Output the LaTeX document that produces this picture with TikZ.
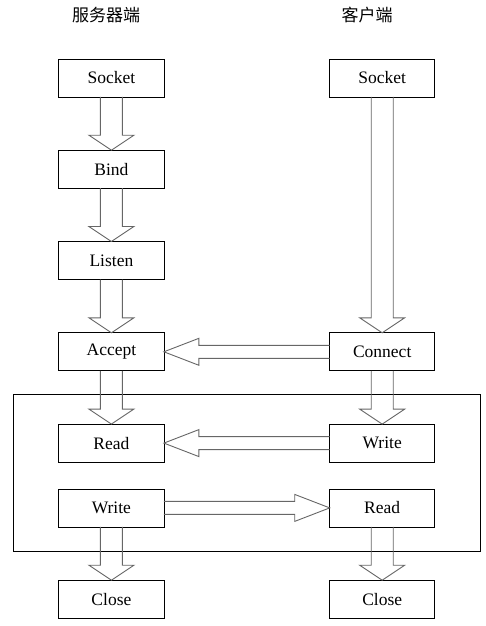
\documentclass[tikz,border=0pt]{standalone}
\usepackage{fontspec}
\setmainfont{Liberation Serif}
\newfontfamily\cjk{Noto Sans CJK SC}
\usetikzlibrary{calc, matrix, positioning}

% hollow block arrows between two boxes
\newcommand{\hollowdown}[2]{%
  \draw[hollow] let \p1=(#1.south), \p2=(#2.north) in
    (\x1-11pt,\y1) -- (\x1-11pt,\y2+15pt) -- (\x1-22.5pt,\y2+15pt) -- (\x1,\y2)
    -- (\x1+22.5pt,\y2+15pt) -- (\x1+11pt,\y2+15pt) -- (\x1+11pt,\y1);}
\newcommand{\hollowleft}[2]{%
  \draw[hollow] let \p1=(#1.west), \p2=(#2.east) in
    (\x1,\y1-6.5pt) -- (\x2+35pt,\y1-6.5pt) -- (\x2+35pt,\y1-13.5pt) -- (\x2,\y1)
    -- (\x2+35pt,\y1+13.5pt) -- (\x2+35pt,\y1+6.5pt) -- (\x1,\y1+6.5pt);}
\newcommand{\hollowright}[2]{%
  \draw[hollow] let \p1=(#1.east), \p2=(#2.west) in
    (\x1,\y1-6.5pt) -- (\x2-35pt,\y1-6.5pt) -- (\x2-35pt,\y1-13.5pt) -- (\x2,\y1)
    -- (\x2-35pt,\y1+13.5pt) -- (\x2-35pt,\y1+6.5pt) -- (\x1,\y1+6.5pt);}

\begin{document}
\begin{tikzpicture}[x=1pt, y=-1pt,
    stepbox/.style={draw=black, line width=0.8pt, minimum width=105pt, minimum height=38pt,
        inner sep=0pt, font=\fontsize{17.5}{19}\selectfont},
    hollow/.style={draw=black!60, line width=0.9pt, line join=miter},
    title/.style={font=\cjk\fontsize{17}{19}\selectfont}]
    \useasboundingbox (0,0) rectangle (485,626);

    \matrix[matrix of nodes,
        nodes={stepbox, anchor=center},
        column sep=165pt, row sep=52.5pt,
        inner sep=0pt, outer sep=0pt,
        anchor=north west,
        ampersand replacement=\&] (m) at (58.5,58.5) {
        Socket \& Socket \\
        Bind   \& \\
        Listen \& \\
        Accept \& Connect \\
        Read   \& Write \\[-26.5pt]
        Write  \& Read \\
        Close  \& Close \\
    };

    % column titles
    \node[title] (server) at (106,15) {服务器端};
    \node[title] (client) at (367,15) {客户端};

    % loop frame around read / write
    \draw[line width=0.8pt] (13,394) rectangle (480,551);

    % server side
    \hollowdown{m-1-1}{m-2-1}
    \hollowdown{m-2-1}{m-3-1}
    \hollowdown{m-3-1}{m-4-1}
    \hollowdown{m-4-1}{m-5-1}
    \hollowdown{m-6-1}{m-7-1}

    % client side
    \hollowdown{m-1-2}{m-4-2}
    \hollowdown{m-4-2}{m-5-2}
    \hollowdown{m-6-2}{m-7-2}

    % between the two
    \hollowleft{m-4-2}{m-4-1}
    \hollowleft{m-5-2}{m-5-1}
    \hollowright{m-6-1}{m-6-2}
\end{tikzpicture}
\end{document}
